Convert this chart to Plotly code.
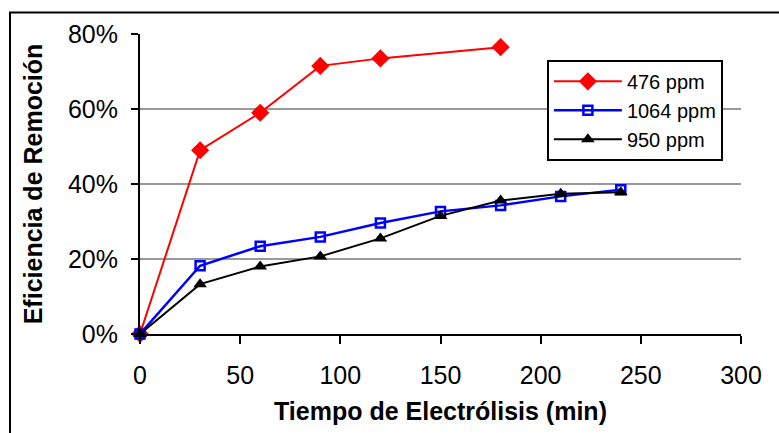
import plotly.graph_objects as go

# Data
time_476 = [0, 30, 60, 90, 120, 180]
eff_476 = [0.0, 0.49, 0.59, 0.715, 0.735, 0.765]

time_1064 = [0, 30, 60, 90, 120, 150, 180, 210, 240]
eff_1064 = [0.0, 0.182, 0.234, 0.259, 0.296, 0.327, 0.343, 0.367, 0.385]

time_950 = [0, 30, 60, 90, 120, 150, 180, 210, 240]
eff_950 = [0.0, 0.133, 0.18, 0.207, 0.255, 0.315, 0.356, 0.374, 0.378]

x_ticks = [0, 50, 100, 150, 200, 250, 300]
y_ticks = [0, 0.2, 0.4, 0.6, 0.8]

FONT = "Liberation Sans, Arial, sans-serif"

fig = go.Figure()
fig.add_trace(go.Scatter(
    x=time_476, y=eff_476, name="476 ppm", mode="lines+markers",
    line=dict(color="#ff0000", width=2),
    marker=dict(symbol="diamond", size=14, color="#ff0000"),
    cliponaxis=False))
fig.add_trace(go.Scatter(
    x=time_1064, y=eff_1064, name="1064 ppm", mode="lines+markers",
    line=dict(color="#0000ff", width=2.5),
    marker=dict(symbol="square-open", size=9, color="#0000ff",
                line=dict(width=2.5, color="#0000ff")),
    cliponaxis=False))
fig.add_trace(go.Scatter(
    x=time_950, y=eff_950, name="950 ppm", mode="lines+markers",
    line=dict(color="#000000", width=2),
    marker=dict(symbol="triangle-up", size=12, color="#000000"),
    cliponaxis=False))

fig.update_layout(
    width=779, height=433,
    margin=dict(l=140, r=38, t=33.5, b=99),
    paper_bgcolor="white", plot_bgcolor="white",
    font=dict(family=FONT, color="black"),
    showlegend=True,
    legend=dict(
        x=0.677, y=0.914, xanchor="left", yanchor="top",
        bgcolor="white", bordercolor="black", borderwidth=2,
        font=dict(size=20, family=FONT, color="black"),
        itemwidth=68, tracegroupgap=0),
    xaxis=dict(
        range=[0, 300], tickvals=x_ticks, ticktext=[str(v) for v in x_ticks],
        showline=True, linecolor="black", linewidth=2,
        ticks="outside", ticklen=8, tickwidth=2, tickcolor="black",
        showgrid=False, zeroline=False,
        tickfont=dict(size=25, family=FONT),
        ticklabelstandoff=10,
        title=dict(text="<b>Tiempo de Electrólisis (min)</b>",
                   font=dict(size=25, family=FONT), standoff=14)),
    yaxis=dict(
        range=[0, 0.8], tickvals=y_ticks, tickformat=".0%",
        showline=True, linecolor="black", linewidth=2,
        ticks="outside", ticklen=7, tickwidth=2, tickcolor="black",
        showgrid=True, gridcolor="#999999", gridwidth=1.5,
        zeroline=False,
        tickfont=dict(size=25, family=FONT),
        ticklabelstandoff=8,
        title=dict(text="<b>Eficiencia de Remoción</b>",
                   font=dict(size=25, family=FONT), standoff=18)),
    shapes=[dict(type="rect", xref="paper", yref="paper",
                 x0=-0.2163, x1=1.2, y0=-0.5, y1=1.0715,
                 line=dict(color="black", width=2), layer="below")],
)

fig.write_html("out.html")
